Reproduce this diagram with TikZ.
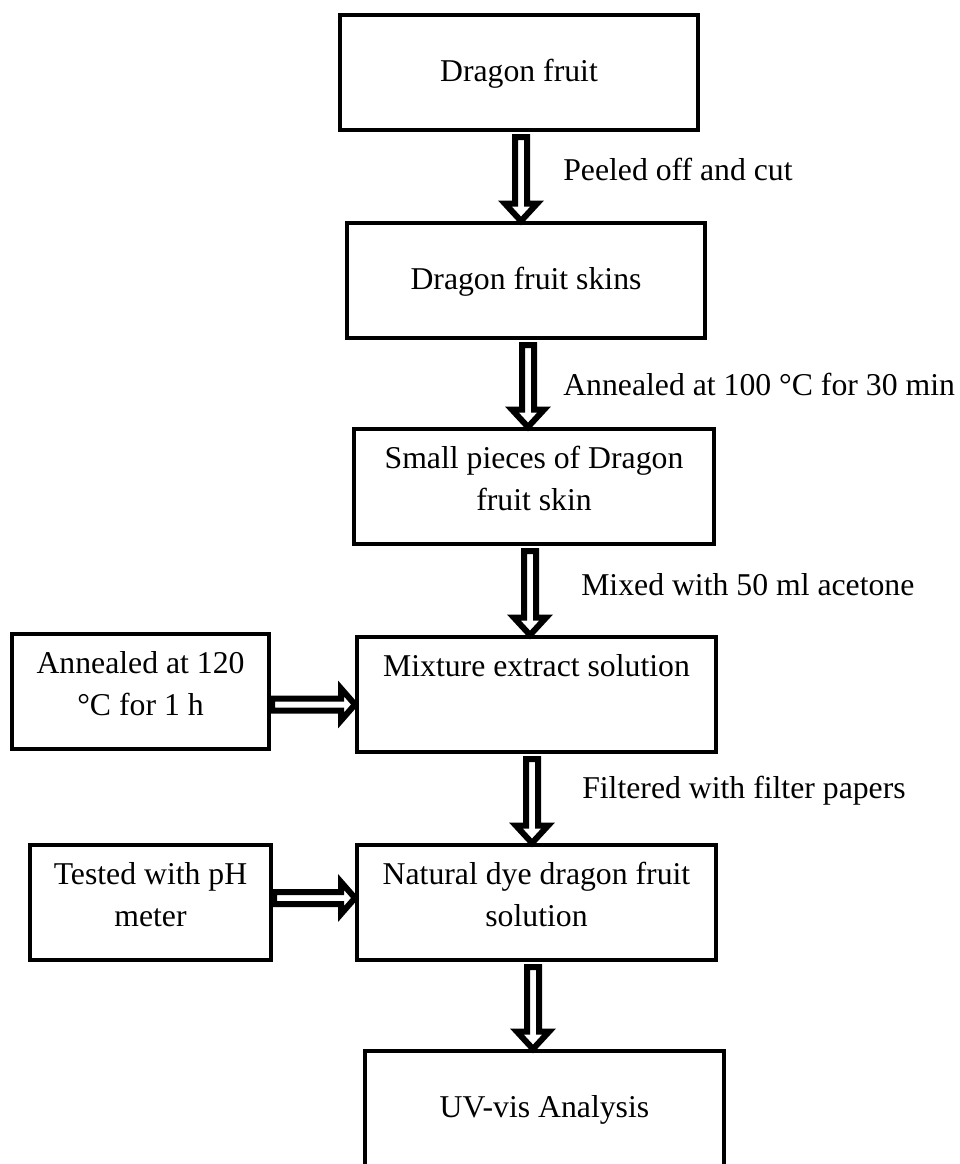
\documentclass[tikz,border=0pt]{standalone}
\usepackage{fontspec}
\setmainfont{Liberation Serif}
\usetikzlibrary{calc}
\newcommand\twoline[2]{\begin{tabular}[t]{@{}c@{}}#1\\#2\end{tabular}}
\tikzset{
  every node/.style={font=\fontsize{23.8pt}{31.5pt}\selectfont},
  box/.style={draw, line width=3pt, inner sep=0pt, rectangle},
  oneline/.style={text height=49.5pt, text depth=36.75pt},
  twolines/.style={text height=29.25pt, text depth=57pt},
  lbl/.style={inner sep=0pt, anchor=base west},
  blk/.style={draw, fill=white, line width=4.5pt, line join=miter},
  vblock/.style={to path={let \p1=(\tikztostart), \p2=(\tikztotarget) in
    (\x1-4.5pt,\y1) -- (\x1+4.5pt,\y1) -- (\x1+4.5pt,\y2+13pt) -- (\x1+12pt,\y2+13pt)
    -- (\x1,\y2) -- (\x1-12pt,\y2+13pt) -- (\x1-4.5pt,\y2+13pt) -- cycle}},
  hblock/.style={to path={let \p1=(\tikztostart), \p2=(\tikztotarget) in
    (\x1,\y1+4.5pt) -- (\x2-10.5pt,\y1+4.5pt) -- (\x2-10.5pt,\y1+12pt) -- (\x2,\y1)
    -- (\x2-10.5pt,\y1-12pt) -- (\x2-10.5pt,\y1-4.5pt) -- (\x1,\y1-4.5pt) -- cycle}},
}
\begin{document}
\begin{tikzpicture}[x=0.75pt,y=-0.75pt]
\useasboundingbox (0,0) rectangle (960,1164);
% main column
\node[box, oneline, minimum width=268.5pt, anchor=north] (b1) at (519,13) {Dragon fruit};
\node[box, oneline, minimum width=268.5pt, anchor=north] (b2) at (526,221) {Dragon fruit skins};
\node[box, twolines, minimum width=270pt, anchor=north] (b3) at (534,427) {\twoline{Small pieces of Dragon}{fruit skin}};
\node[box, twolines, minimum width=269.25pt, anchor=north] (b4) at (536.5,635) {Mixture extract solution};
\node[box, twolines, minimum width=269.25pt, anchor=north] (b5) at (536.5,843) {\twoline{Natural dye dragon fruit}{solution}};
\node[box, oneline, minimum width=269.25pt, anchor=north] (b6) at (544.5,1049) {UV-vis Analysis};
% side boxes
\node[box, twolines, minimum width=192.75pt, anchor=north] (s1) at (140.5,632) {\twoline{Annealed at 120}{°C for 1 h}};
\node[box, twolines, minimum width=180.75pt, anchor=north] (s2) at (150.5,843) {\twoline{Tested with pH}{meter}};
% vertical block arrows
\draw[blk] ($(b1.south)+(2,5)$) to[vblock] (b2.north);
\draw[blk] ($(b2.south)+(2,5)$) to[vblock] (b3.north);
\draw[blk] ($(b3.south)+(-4,5)$) to[vblock] (b4.north);
\draw[blk] ($(b4.south)+(-4.5,5)$) to[vblock] (b5.north);
\draw[blk] ($(b5.south)+(-3.5,5)$) to[vblock] (b6.north);
% horizontal block arrows
\draw[blk] ($(s1.east)+(1,13)$) to[hblock] (b4.west);
\draw[blk] ($(s2.east)+(1,-4.5)$) to[hblock] (b5.west);
% labels
\node[lbl] (l1) at (563,180) {Peeled off and cut};
\node[lbl] (l2) at (563,395) {Annealed at 100 °C for 30 min};
\node[lbl] (l3) at (581,595) {Mixed with 50 ml acetone};
\node[lbl] (l4) at (582,798) {Filtered with filter papers};
\end{tikzpicture}
\end{document}
